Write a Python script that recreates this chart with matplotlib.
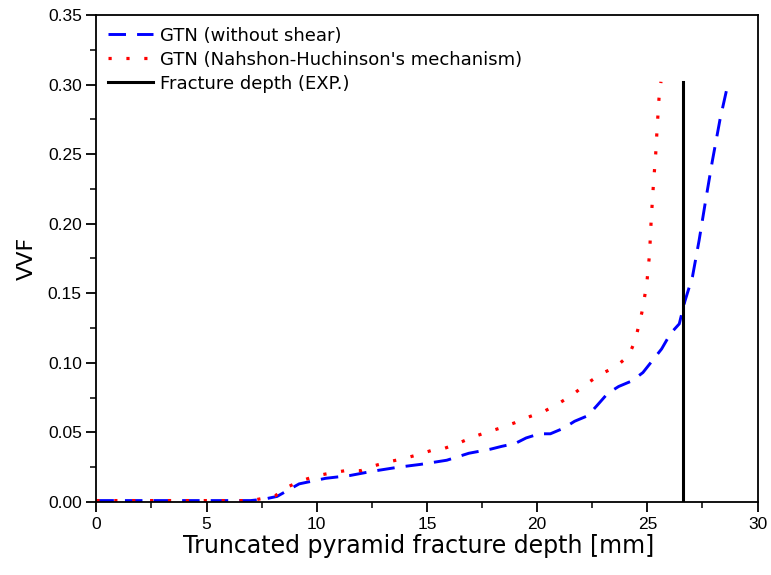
import matplotlib
matplotlib.use("Agg")
import matplotlib.pyplot as plt
from matplotlib.ticker import MultipleLocator

# GTN (without shear)
x_noshear = [0, 1, 2, 3, 4, 5, 6, 7, 7.6, 8.2, 9.2, 10.4, 11.5, 12.5, 13.7, 14.7, 15.9,
             16.9, 17.9, 18.4, 19.0, 19.5, 20.1, 20.6, 21.2, 21.7, 22.3, 22.7, 23.2,
             23.7, 24.3, 24.8, 25.3, 25.65, 26.05, 26.45, 26.7, 27.05, 27.35, 27.65,
             27.95, 28.3, 28.68]
y_noshear = [0.001, 0.001, 0.001, 0.001, 0.001, 0.001, 0.001, 0.001, 0.002, 0.004, 0.013,
             0.017, 0.019, 0.022, 0.025, 0.027, 0.030, 0.035, 0.038, 0.040, 0.042, 0.046,
             0.049, 0.049, 0.053, 0.058, 0.062, 0.069, 0.078, 0.083, 0.087, 0.093, 0.103,
             0.110, 0.121, 0.128, 0.144, 0.162, 0.188, 0.217, 0.245, 0.275, 0.302]

# GTN (Nahshon-Huchinson's mechanism)
x_nh = [0, 1, 2, 3, 4, 5, 6, 7, 7.5, 8.1, 8.7, 9.4, 10.05, 10.7, 11.3, 12.0, 12.6, 13.3,
        13.9, 14.6, 15.2, 15.7, 16.4, 17.05, 17.7, 18.3, 19.0, 19.6, 20.3, 20.9, 21.6,
        22.25, 22.9, 23.55, 24.15, 24.45, 24.75, 24.97, 25.1, 25.18, 25.28, 25.38, 25.45,
        25.53, 25.62]
y_nh = [0.001, 0.001, 0.001, 0.001, 0.001, 0.001, 0.001, 0.001, 0.0024, 0.0043, 0.011,
        0.0158, 0.019, 0.021, 0.0225, 0.0225, 0.026, 0.029, 0.031, 0.034, 0.037, 0.038,
        0.042, 0.0465, 0.050, 0.053, 0.057, 0.061, 0.065, 0.070, 0.077, 0.085, 0.092,
        0.097, 0.105, 0.116, 0.136, 0.156, 0.178, 0.204, 0.229, 0.250, 0.270, 0.290, 0.302]

# Fracture depth (EXP.)
x_exp = [26.62, 26.62]
y_exp = [0.0, 0.302]

fig = plt.figure(figsize=(7.71, 5.75), dpi=100)
ax = fig.add_axes([0.125, 0.127, 0.8575, 0.847])

ax.plot(x_noshear, y_noshear, color="#0000ff", linestyle=(0, (6, 3.8)), linewidth=2.1,
        label="GTN (without shear)")
ax.plot(x_nh, y_nh, color="#ff0000", linestyle=(0, (1, 4.6)), linewidth=2.3,
        label="GTN (Nahshon-Huchinson's mechanism)")
ax.plot(x_exp, y_exp, color="black", linewidth=2.2, label="Fracture depth (EXP.)")

ax.set_xlim(0, 30)
ax.set_ylim(0, 0.35)
ax.xaxis.set_major_locator(MultipleLocator(5))
ax.xaxis.set_minor_locator(MultipleLocator(2.5))
ax.yaxis.set_major_locator(MultipleLocator(0.05))
ax.yaxis.set_minor_locator(MultipleLocator(0.025))
ax.yaxis.set_major_formatter(matplotlib.ticker.FormatStrFormatter("%.2f"))
ax.tick_params(which="major", direction="out", length=7, width=1.3, labelsize=12.5)
ax.tick_params(which="minor", direction="out", length=4, width=1.1)
for lab in ax.get_xticklabels() + ax.get_yticklabels():
    lab.set_family("Liberation Sans")
for s in ax.spines.values():
    s.set_linewidth(1.3)

ax.set_xlabel("Truncated pyramid fracture depth [mm]", fontsize=17, family="DejaVu Sans",
              labelpad=2)
ax.xaxis.set_label_coords(0.488, -0.065)
ax.set_ylabel("VVF", fontsize=16, family="DejaVu Sans", labelpad=8)

leg = ax.legend(loc="upper left", frameon=False, handlelength=2.5,
                handletextpad=0.4, borderaxespad=0.25, labelspacing=0.33,
                prop={"family": "DejaVu Sans", "size": 13})

fig.savefig("out.png", dpi=100)
